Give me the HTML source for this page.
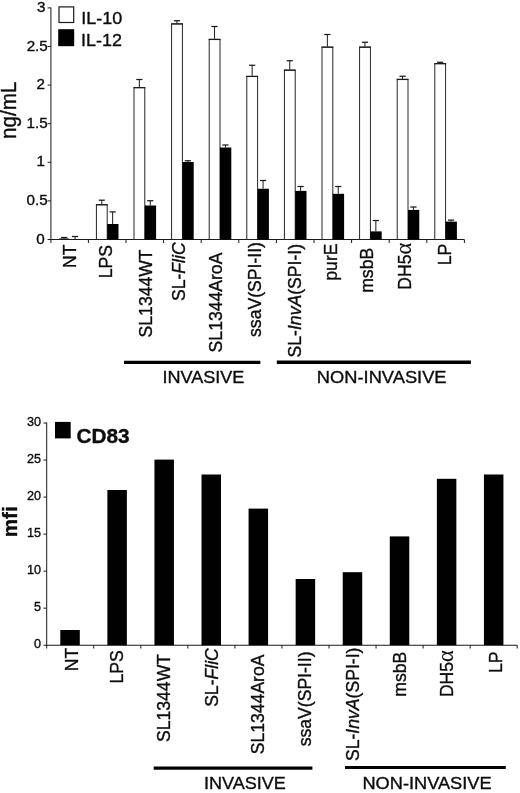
<!DOCTYPE html>
<html lang="en"><head><meta charset="utf-8"><title>Figure</title>
<style>html,body{margin:0;padding:0;background:#fff}svg{display:block}text{font-family:"Liberation Sans", Arial, Helvetica, sans-serif;fill:#0d0d0d;stroke:#0d0d0d;stroke-width:0.36px;stroke-linejoin:round}</style></head><body>
<svg width="520" height="793" viewBox="0 0 520 793">
<rect width="520" height="793" fill="#fff"/>
<g opacity="0.999">
<line x1="50.90" y1="7.50" x2="50.90" y2="242.90" stroke="#444" stroke-width="1.25"/>
<line x1="47.60" y1="239.50" x2="464.40" y2="239.50" stroke="#1a1a1a" stroke-width="1.10"/>
<line x1="47.60" y1="200.90" x2="50.80" y2="200.90" stroke="#1a1a1a" stroke-width="1.00"/>
<line x1="47.60" y1="162.30" x2="50.80" y2="162.30" stroke="#1a1a1a" stroke-width="1.00"/>
<line x1="47.60" y1="123.70" x2="50.80" y2="123.70" stroke="#1a1a1a" stroke-width="1.00"/>
<line x1="47.60" y1="85.10" x2="50.80" y2="85.10" stroke="#1a1a1a" stroke-width="1.00"/>
<line x1="47.60" y1="46.50" x2="50.80" y2="46.50" stroke="#1a1a1a" stroke-width="1.00"/>
<line x1="47.60" y1="7.90" x2="50.80" y2="7.90" stroke="#1a1a1a" stroke-width="1.00"/>
<line x1="88.40" y1="239.50" x2="88.40" y2="243.00" stroke="#1a1a1a" stroke-width="1.00"/>
<line x1="126.00" y1="239.50" x2="126.00" y2="243.00" stroke="#1a1a1a" stroke-width="1.00"/>
<line x1="163.60" y1="239.50" x2="163.60" y2="243.00" stroke="#1a1a1a" stroke-width="1.00"/>
<line x1="201.20" y1="239.50" x2="201.20" y2="243.00" stroke="#1a1a1a" stroke-width="1.00"/>
<line x1="238.80" y1="239.50" x2="238.80" y2="243.00" stroke="#1a1a1a" stroke-width="1.00"/>
<line x1="276.40" y1="239.50" x2="276.40" y2="243.00" stroke="#1a1a1a" stroke-width="1.00"/>
<line x1="314.00" y1="239.50" x2="314.00" y2="243.00" stroke="#1a1a1a" stroke-width="1.00"/>
<line x1="351.60" y1="239.50" x2="351.60" y2="243.00" stroke="#1a1a1a" stroke-width="1.00"/>
<line x1="389.20" y1="239.50" x2="389.20" y2="243.00" stroke="#1a1a1a" stroke-width="1.00"/>
<line x1="426.80" y1="239.50" x2="426.80" y2="243.00" stroke="#1a1a1a" stroke-width="1.00"/>
<line x1="464.40" y1="239.50" x2="464.40" y2="243.00" stroke="#1a1a1a" stroke-width="1.00"/>
<text transform="translate(45.40,12.20) scale(1.050,1)" font-size="14.5" text-anchor="end">3</text>
<text transform="translate(47.80,50.80) scale(1.050,1)" font-size="14.5" text-anchor="end">2.5</text>
<text transform="translate(44.90,89.40) scale(1.050,1)" font-size="14.5" text-anchor="end">2</text>
<text transform="translate(47.70,127.60) scale(1.050,1)" font-size="14.5" text-anchor="end">1.5</text>
<text transform="translate(45.00,166.30) scale(1.050,1)" font-size="14.5" text-anchor="end">1</text>
<text transform="translate(47.70,205.00) scale(1.050,1)" font-size="14.5" text-anchor="end">0.5</text>
<text transform="translate(44.80,243.80) scale(1.050,1)" font-size="14.5" text-anchor="end">0</text>
<line x1="59.30" y1="238.90" x2="68.60" y2="238.90" stroke="#1a1a1a" stroke-width="1.00"/>
<line x1="64.15" y1="237.50" x2="64.15" y2="238.40" stroke="#1a1a1a" stroke-width="1.00"/>
<line x1="61.05" y1="237.50" x2="67.25" y2="237.50" stroke="#1a1a1a" stroke-width="1.25"/>
<line x1="75.05" y1="236.50" x2="75.05" y2="239.50" stroke="#1a1a1a" stroke-width="1.00"/>
<line x1="71.95" y1="236.50" x2="78.15" y2="236.50" stroke="#1a1a1a" stroke-width="1.25"/>
<rect x="96.40" y="204.70" width="10.80" height="34.80" fill="#fff" stroke="#1c1c1c" stroke-width="0.95"/>
<line x1="95.90" y1="204.80" x2="107.70" y2="204.80" stroke="#1a1a1a" stroke-width="1.20"/>
<rect x="107.20" y="224.00" width="11.30" height="15.50" fill="#000"/>
<line x1="101.75" y1="200.20" x2="101.75" y2="204.20" stroke="#1a1a1a" stroke-width="1.00"/>
<line x1="98.65" y1="200.20" x2="104.85" y2="200.20" stroke="#1a1a1a" stroke-width="1.25"/>
<line x1="112.65" y1="211.90" x2="112.65" y2="224.00" stroke="#1a1a1a" stroke-width="1.00"/>
<line x1="109.55" y1="211.90" x2="115.75" y2="211.90" stroke="#1a1a1a" stroke-width="1.25"/>
<rect x="134.00" y="87.60" width="10.80" height="151.90" fill="#fff" stroke="#1c1c1c" stroke-width="0.95"/>
<line x1="133.50" y1="87.70" x2="145.30" y2="87.70" stroke="#1a1a1a" stroke-width="1.20"/>
<rect x="144.80" y="205.50" width="11.30" height="34.00" fill="#000"/>
<line x1="139.35" y1="79.50" x2="139.35" y2="87.10" stroke="#1a1a1a" stroke-width="1.00"/>
<line x1="136.25" y1="79.50" x2="142.45" y2="79.50" stroke="#1a1a1a" stroke-width="1.25"/>
<line x1="150.25" y1="200.75" x2="150.25" y2="205.50" stroke="#1a1a1a" stroke-width="1.00"/>
<line x1="147.15" y1="200.75" x2="153.35" y2="200.75" stroke="#1a1a1a" stroke-width="1.25"/>
<rect x="171.60" y="23.85" width="10.80" height="215.65" fill="#fff" stroke="#1c1c1c" stroke-width="0.95"/>
<line x1="171.10" y1="23.95" x2="182.90" y2="23.95" stroke="#1a1a1a" stroke-width="1.20"/>
<rect x="182.40" y="162.00" width="11.30" height="77.50" fill="#000"/>
<line x1="176.95" y1="20.75" x2="176.95" y2="23.35" stroke="#1a1a1a" stroke-width="1.00"/>
<line x1="173.85" y1="20.75" x2="180.05" y2="20.75" stroke="#1a1a1a" stroke-width="1.25"/>
<line x1="187.85" y1="160.75" x2="187.85" y2="162.00" stroke="#1a1a1a" stroke-width="1.00"/>
<line x1="184.75" y1="160.75" x2="190.95" y2="160.75" stroke="#1a1a1a" stroke-width="1.25"/>
<rect x="209.20" y="39.35" width="10.80" height="200.15" fill="#fff" stroke="#1c1c1c" stroke-width="0.95"/>
<line x1="208.70" y1="39.45" x2="220.50" y2="39.45" stroke="#1a1a1a" stroke-width="1.20"/>
<rect x="220.00" y="147.50" width="11.30" height="92.00" fill="#000"/>
<line x1="214.55" y1="26.50" x2="214.55" y2="38.85" stroke="#1a1a1a" stroke-width="1.00"/>
<line x1="211.45" y1="26.50" x2="217.65" y2="26.50" stroke="#1a1a1a" stroke-width="1.25"/>
<line x1="225.45" y1="145.00" x2="225.45" y2="147.50" stroke="#1a1a1a" stroke-width="1.00"/>
<line x1="222.35" y1="145.00" x2="228.55" y2="145.00" stroke="#1a1a1a" stroke-width="1.25"/>
<rect x="246.80" y="76.35" width="10.80" height="163.15" fill="#fff" stroke="#1c1c1c" stroke-width="0.95"/>
<line x1="246.30" y1="76.45" x2="258.10" y2="76.45" stroke="#1a1a1a" stroke-width="1.20"/>
<rect x="257.60" y="188.75" width="11.30" height="50.75" fill="#000"/>
<line x1="252.15" y1="65.25" x2="252.15" y2="75.85" stroke="#1a1a1a" stroke-width="1.00"/>
<line x1="249.05" y1="65.25" x2="255.25" y2="65.25" stroke="#1a1a1a" stroke-width="1.25"/>
<line x1="263.05" y1="180.50" x2="263.05" y2="188.75" stroke="#1a1a1a" stroke-width="1.00"/>
<line x1="259.95" y1="180.50" x2="266.15" y2="180.50" stroke="#1a1a1a" stroke-width="1.25"/>
<rect x="284.40" y="70.10" width="10.80" height="169.40" fill="#fff" stroke="#1c1c1c" stroke-width="0.95"/>
<line x1="283.90" y1="70.20" x2="295.70" y2="70.20" stroke="#1a1a1a" stroke-width="1.20"/>
<rect x="295.20" y="190.90" width="11.30" height="48.60" fill="#000"/>
<line x1="289.75" y1="60.75" x2="289.75" y2="69.60" stroke="#1a1a1a" stroke-width="1.00"/>
<line x1="286.65" y1="60.75" x2="292.85" y2="60.75" stroke="#1a1a1a" stroke-width="1.25"/>
<line x1="300.65" y1="186.50" x2="300.65" y2="190.90" stroke="#1a1a1a" stroke-width="1.00"/>
<line x1="297.55" y1="186.50" x2="303.75" y2="186.50" stroke="#1a1a1a" stroke-width="1.25"/>
<rect x="322.00" y="47.10" width="10.80" height="192.40" fill="#fff" stroke="#1c1c1c" stroke-width="0.95"/>
<line x1="321.50" y1="47.20" x2="333.30" y2="47.20" stroke="#1a1a1a" stroke-width="1.20"/>
<rect x="332.80" y="193.80" width="11.30" height="45.70" fill="#000"/>
<line x1="327.35" y1="34.50" x2="327.35" y2="46.60" stroke="#1a1a1a" stroke-width="1.00"/>
<line x1="324.25" y1="34.50" x2="330.45" y2="34.50" stroke="#1a1a1a" stroke-width="1.25"/>
<line x1="338.25" y1="186.50" x2="338.25" y2="193.80" stroke="#1a1a1a" stroke-width="1.00"/>
<line x1="335.15" y1="186.50" x2="341.35" y2="186.50" stroke="#1a1a1a" stroke-width="1.25"/>
<rect x="359.60" y="47.10" width="10.80" height="192.40" fill="#fff" stroke="#1c1c1c" stroke-width="0.95"/>
<line x1="359.10" y1="47.20" x2="370.90" y2="47.20" stroke="#1a1a1a" stroke-width="1.20"/>
<rect x="370.40" y="231.40" width="11.30" height="8.10" fill="#000"/>
<line x1="364.95" y1="42.25" x2="364.95" y2="46.60" stroke="#1a1a1a" stroke-width="1.00"/>
<line x1="361.85" y1="42.25" x2="368.05" y2="42.25" stroke="#1a1a1a" stroke-width="1.25"/>
<line x1="375.85" y1="220.50" x2="375.85" y2="231.40" stroke="#1a1a1a" stroke-width="1.00"/>
<line x1="372.75" y1="220.50" x2="378.95" y2="220.50" stroke="#1a1a1a" stroke-width="1.25"/>
<rect x="397.20" y="79.35" width="10.80" height="160.15" fill="#fff" stroke="#1c1c1c" stroke-width="0.95"/>
<line x1="396.70" y1="79.45" x2="408.50" y2="79.45" stroke="#1a1a1a" stroke-width="1.20"/>
<rect x="408.00" y="209.90" width="11.30" height="29.60" fill="#000"/>
<line x1="402.55" y1="76.25" x2="402.55" y2="78.85" stroke="#1a1a1a" stroke-width="1.00"/>
<line x1="399.45" y1="76.25" x2="405.65" y2="76.25" stroke="#1a1a1a" stroke-width="1.25"/>
<line x1="413.45" y1="207.00" x2="413.45" y2="209.90" stroke="#1a1a1a" stroke-width="1.00"/>
<line x1="410.35" y1="207.00" x2="416.55" y2="207.00" stroke="#1a1a1a" stroke-width="1.25"/>
<rect x="434.80" y="63.60" width="10.80" height="175.90" fill="#fff" stroke="#1c1c1c" stroke-width="0.95"/>
<line x1="434.30" y1="63.70" x2="446.10" y2="63.70" stroke="#1a1a1a" stroke-width="1.20"/>
<rect x="445.60" y="221.60" width="11.30" height="17.90" fill="#000"/>
<line x1="440.15" y1="62.25" x2="440.15" y2="63.10" stroke="#1a1a1a" stroke-width="1.00"/>
<line x1="437.05" y1="62.25" x2="443.25" y2="62.25" stroke="#1a1a1a" stroke-width="1.25"/>
<line x1="451.05" y1="220.10" x2="451.05" y2="221.60" stroke="#1a1a1a" stroke-width="1.00"/>
<line x1="447.95" y1="220.10" x2="454.15" y2="220.10" stroke="#1a1a1a" stroke-width="1.25"/>
<rect x="59.0" y="6.9" width="14.7" height="15.6" fill="#fff" stroke="#1a1a1a" stroke-width="1.2"/>
<rect x="58.2" y="29.2" width="16" height="17" fill="#000"/>
<text transform="translate(81.30,24.30) scale(1.045,1)" font-size="17.2" text-anchor="start">IL-10</text>
<text transform="translate(81.00,45.90) scale(1.045,1)" font-size="17.2" text-anchor="start">IL-12</text>
<text transform="translate(16.2,139.0) rotate(-90) scale(1,1.075)" font-size="20.7">ng/mL</text>
<text transform="translate(76.0,244.5) rotate(-90)" font-size="17.6" text-anchor="end">NT</text>
<text transform="translate(112.0,245.1) rotate(-90)" font-size="17.6" text-anchor="end">LPS</text>
<text transform="translate(152.0,249.4) rotate(-90)" font-size="17.6" text-anchor="end">SL1344WT</text>
<text transform="translate(185.0,242.4) rotate(-90)" font-size="17.6" text-anchor="end">SL-<tspan font-style="italic">FliC</tspan></text>
<text transform="translate(222.0,252.6) rotate(-90)" font-size="17.6" text-anchor="end">SL1344AroA</text>
<text transform="translate(261.0,242.1) rotate(-90)" font-size="17.6" text-anchor="end">ssaV(SPI-II)</text>
<text transform="translate(301.0,244.0) rotate(-90)" font-size="17.6" text-anchor="end">SL-<tspan font-style="italic">InvA</tspan>(SPI-I)</text>
<text transform="translate(337.0,243.5) rotate(-90)" font-size="17.6" text-anchor="end">purE</text>
<text transform="translate(373.0,247.8) rotate(-90)" font-size="17.6" text-anchor="end">msbB</text>
<text transform="translate(411.0,242.7) rotate(-90)" font-size="17.6" text-anchor="end">DH5<tspan font-family="Liberation Serif, serif" font-size="22.5" stroke-width="0.15">α</tspan></text>
<text transform="translate(451.0,243.7) rotate(-90)" font-size="17.6" text-anchor="end">LP</text>
<line x1="124.00" y1="362.35" x2="260.40" y2="362.35" stroke="#000" stroke-width="3.30"/>
<line x1="276.80" y1="362.25" x2="470.90" y2="362.25" stroke="#000" stroke-width="3.40"/>
<text transform="translate(203.40,382.80) scale(1.045,1)" font-size="17.3" text-anchor="middle">INVASIVE</text>
<text transform="translate(381.70,383.00) scale(1.058,1)" font-size="17.3" text-anchor="middle">NON-INVASIVE</text>
<line x1="46.70" y1="422.52" x2="46.70" y2="648.50" stroke="#1a1a1a" stroke-width="1.00"/>
<line x1="43.50" y1="645.20" x2="517.20" y2="645.20" stroke="#1a1a1a" stroke-width="1.10"/>
<line x1="43.50" y1="608.17" x2="46.70" y2="608.17" stroke="#1a1a1a" stroke-width="1.00"/>
<line x1="43.50" y1="571.14" x2="46.70" y2="571.14" stroke="#1a1a1a" stroke-width="1.00"/>
<line x1="43.50" y1="534.11" x2="46.70" y2="534.11" stroke="#1a1a1a" stroke-width="1.00"/>
<line x1="43.50" y1="497.08" x2="46.70" y2="497.08" stroke="#1a1a1a" stroke-width="1.00"/>
<line x1="43.50" y1="460.05" x2="46.70" y2="460.05" stroke="#1a1a1a" stroke-width="1.00"/>
<line x1="43.50" y1="423.02" x2="46.70" y2="423.02" stroke="#1a1a1a" stroke-width="1.00"/>
<line x1="93.75" y1="645.20" x2="93.75" y2="648.50" stroke="#1a1a1a" stroke-width="1.00"/>
<line x1="140.80" y1="645.20" x2="140.80" y2="648.50" stroke="#1a1a1a" stroke-width="1.00"/>
<line x1="187.85" y1="645.20" x2="187.85" y2="648.50" stroke="#1a1a1a" stroke-width="1.00"/>
<line x1="234.90" y1="645.20" x2="234.90" y2="648.50" stroke="#1a1a1a" stroke-width="1.00"/>
<line x1="281.95" y1="645.20" x2="281.95" y2="648.50" stroke="#1a1a1a" stroke-width="1.00"/>
<line x1="329.00" y1="645.20" x2="329.00" y2="648.50" stroke="#1a1a1a" stroke-width="1.00"/>
<line x1="376.05" y1="645.20" x2="376.05" y2="648.50" stroke="#1a1a1a" stroke-width="1.00"/>
<line x1="423.10" y1="645.20" x2="423.10" y2="648.50" stroke="#1a1a1a" stroke-width="1.00"/>
<line x1="470.15" y1="645.20" x2="470.15" y2="648.50" stroke="#1a1a1a" stroke-width="1.00"/>
<line x1="517.20" y1="645.20" x2="517.20" y2="648.50" stroke="#1a1a1a" stroke-width="1.00"/>
<text x="41.0" y="648.4" font-size="12.6" text-anchor="end">0</text>
<text x="41.0" y="611.4" font-size="12.6" text-anchor="end">5</text>
<text x="41.0" y="574.3" font-size="12.6" text-anchor="end">10</text>
<text x="41.0" y="537.3" font-size="12.6" text-anchor="end">15</text>
<text x="41.0" y="500.3" font-size="12.6" text-anchor="end">20</text>
<text x="41.0" y="463.3" font-size="12.6" text-anchor="end">25</text>
<text x="41.0" y="426.2" font-size="12.6" text-anchor="end">30</text>
<rect x="60.30" y="630.00" width="19.5" height="15.20" fill="#000"/>
<rect x="107.37" y="490.00" width="19.5" height="155.20" fill="#000"/>
<rect x="154.44" y="459.60" width="19.5" height="185.60" fill="#000"/>
<rect x="201.51" y="474.50" width="19.5" height="170.70" fill="#000"/>
<rect x="248.58" y="508.60" width="19.5" height="136.60" fill="#000"/>
<rect x="295.65" y="579.00" width="19.5" height="66.20" fill="#000"/>
<rect x="342.72" y="572.20" width="19.5" height="73.00" fill="#000"/>
<rect x="389.79" y="536.40" width="19.5" height="108.80" fill="#000"/>
<rect x="436.86" y="478.80" width="19.5" height="166.40" fill="#000"/>
<rect x="483.93" y="474.50" width="19.5" height="170.70" fill="#000"/>
<rect x="55.0" y="421.9" width="15.7" height="16.5" fill="#000"/>
<text x="76.5" y="442.6" font-size="20.8" font-weight="bold">CD83</text>
<text transform="translate(17.3,537.2) rotate(-90)" font-size="20.6" font-weight="bold">mfi</text>
<text transform="translate(78.0,647.8) rotate(-90)" font-size="17.6" text-anchor="end">NT</text>
<text transform="translate(123.0,650.3) rotate(-90)" font-size="17.6" text-anchor="end">LPS</text>
<text transform="translate(170.0,654.0) rotate(-90)" font-size="17.6" text-anchor="end">SL1344WT</text>
<text transform="translate(218.0,648.2) rotate(-90)" font-size="17.6" text-anchor="end">SL-<tspan font-style="italic">FliC</tspan></text>
<text transform="translate(264.0,654.5) rotate(-90)" font-size="17.6" text-anchor="end">SL1344AroA</text>
<text transform="translate(311.0,651.5) rotate(-90)" font-size="17.6" text-anchor="end">ssaV(SPI-II)</text>
<text transform="translate(359.0,647.6) rotate(-90)" font-size="17.6" text-anchor="end">SL-<tspan font-style="italic">InvA</tspan>(SPI-I)</text>
<text transform="translate(406.0,651.7) rotate(-90)" font-size="17.6" text-anchor="end">msbB</text>
<text transform="translate(453.0,650.1) rotate(-90)" font-size="17.6" text-anchor="end">DH5<tspan font-family="Liberation Serif, serif" font-size="22.5" stroke-width="0.15">α</tspan></text>
<text transform="translate(502.0,651.4) rotate(-90)" font-size="17.6" text-anchor="end">LP</text>
<line x1="153.70" y1="768.10" x2="312.40" y2="768.10" stroke="#000" stroke-width="3.20"/>
<line x1="345.00" y1="767.50" x2="505.80" y2="767.50" stroke="#000" stroke-width="3.20"/>
<text transform="translate(244.90,789.00) scale(1.045,1)" font-size="17.3" text-anchor="middle">INVASIVE</text>
<text transform="translate(427.00,789.00) scale(1.052,1)" font-size="17.3" text-anchor="middle">NON-INVASIVE</text>
</g>
</svg></body></html>
